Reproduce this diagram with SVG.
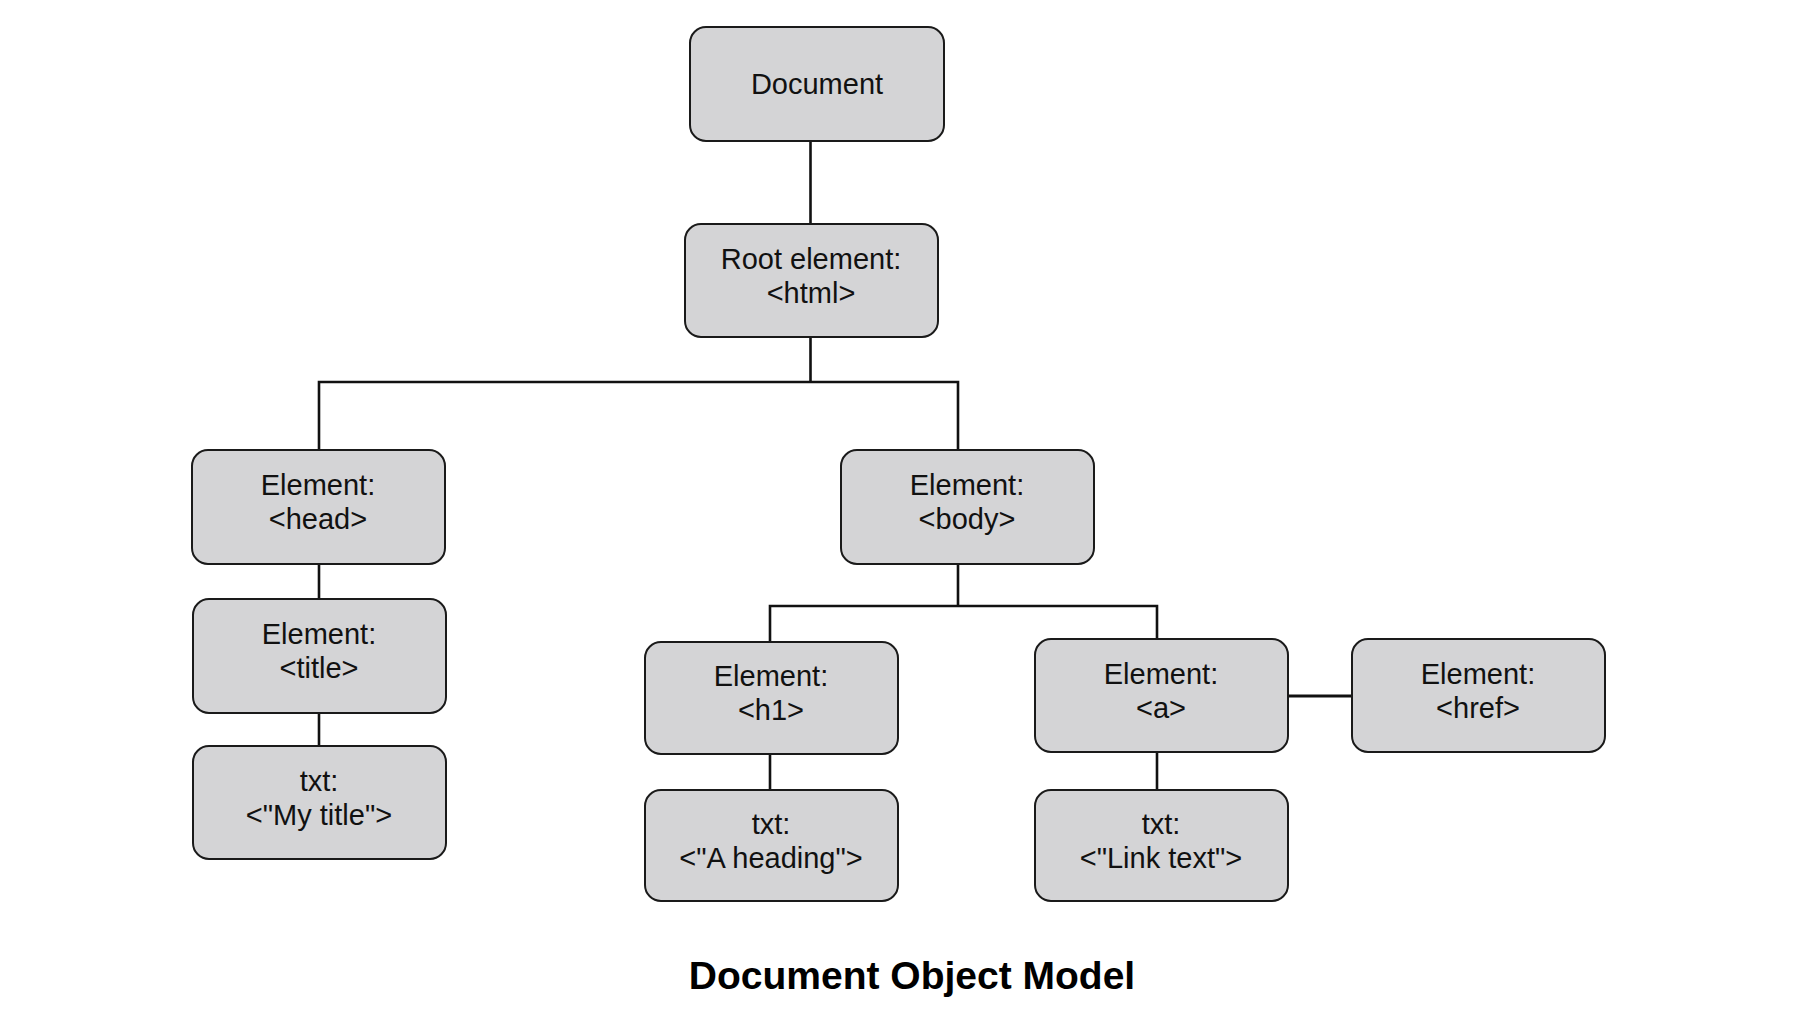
<svg xmlns="http://www.w3.org/2000/svg" width="1800" height="1013" viewBox="0 0 1800 1013">
<style>
.box{fill:#d4d4d6;stroke:#1a1a1a;stroke-width:2}
.lbl{font-family:"Liberation Sans",Arial,sans-serif;font-size:29px;fill:#111;text-anchor:middle}
.ttl{font-family:"Liberation Sans",Arial,sans-serif;font-size:39px;font-weight:bold;fill:#000;text-anchor:middle}
.con{fill:none;stroke:#111;stroke-width:2.6}
</style>
<rect width="1800" height="1013" fill="#fff"/>
<g id="connectors">
<path class="con" d="M810.5 141V224"/>
<path class="con" d="M810.5 337V382M319 450V382H958V450"/>
<path class="con" d="M319 564V599M319 713V746"/>
<path class="con" d="M958 564V606M770 642V606H1157V639"/>
<path class="con" d="M770 754V790M1157 752V790"/>
<path class="con" d="M1288 696H1352" style="stroke-width:3.2"/>
</g>
<g id="document"><rect class="box" x="690" y="27" width="254" height="114" rx="16"/><text class="lbl" x="817" y="94">Document</text></g>
<g id="root"><rect class="box" x="685" y="224" width="253" height="113" rx="16"/><text class="lbl" x="811" y="269">Root element:</text><text class="lbl" x="811" y="303">&lt;html&gt;</text></g>
<g id="head"><rect class="box" x="192" y="450" width="253" height="114" rx="16"/><text class="lbl" x="318" y="495">Element:</text><text class="lbl" x="318" y="529">&lt;head&gt;</text></g>
<g id="title"><rect class="box" x="193" y="599" width="253" height="114" rx="16"/><text class="lbl" x="319" y="644">Element:</text><text class="lbl" x="319" y="678">&lt;title&gt;</text></g>
<g id="mytitle"><rect class="box" x="193" y="746" width="253" height="113" rx="16"/><text class="lbl" x="319" y="791">txt:</text><text class="lbl" x="319" y="825">&lt;"My title"&gt;</text></g>
<g id="body"><rect class="box" x="841" y="450" width="253" height="114" rx="16"/><text class="lbl" x="967" y="495">Element:</text><text class="lbl" x="967" y="529">&lt;body&gt;</text></g>
<g id="h1"><rect class="box" x="645" y="642" width="253" height="112" rx="16"/><text class="lbl" x="771" y="686">Element:</text><text class="lbl" x="771" y="720">&lt;h1&gt;</text></g>
<g id="aheading"><rect class="box" x="645" y="790" width="253" height="111" rx="16"/><text class="lbl" x="771" y="834">txt:</text><text class="lbl" x="771" y="868">&lt;"A heading"&gt;</text></g>
<g id="a"><rect class="box" x="1035" y="639" width="253" height="113" rx="16"/><text class="lbl" x="1161" y="684">Element:</text><text class="lbl" x="1161" y="718">&lt;a&gt;</text></g>
<g id="linktext"><rect class="box" x="1035" y="790" width="253" height="111" rx="16"/><text class="lbl" x="1161" y="834">txt:</text><text class="lbl" x="1161" y="868">&lt;"Link text"&gt;</text></g>
<g id="href"><rect class="box" x="1352" y="639" width="253" height="113" rx="16"/><text class="lbl" x="1478" y="684">Element:</text><text class="lbl" x="1478" y="718">&lt;href&gt;</text></g>
<text class="ttl" x="912" y="989">Document Object Model</text>
</svg>
